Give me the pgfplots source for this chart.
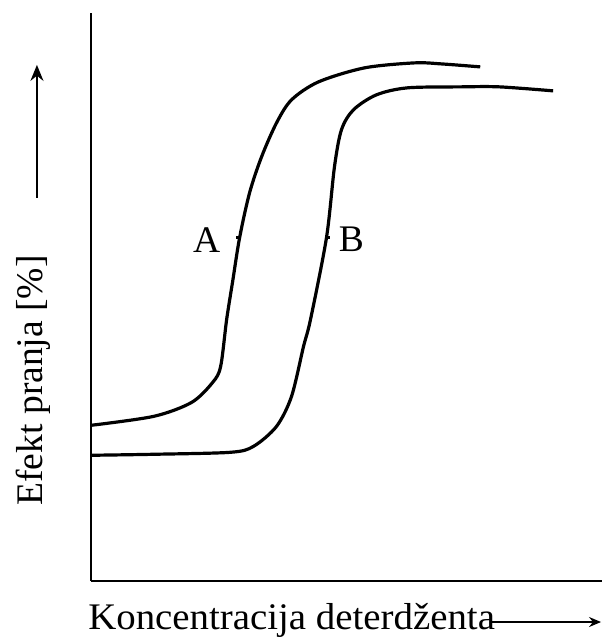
\documentclass[border=0pt]{standalone}
\usepackage{fontspec}
\setmainfont{Liberation Serif}
\usepackage{pgfplots}
\pgfplotsset{compat=1.18}
\usetikzlibrary{arrows.meta}
\begin{document}
\begin{tikzpicture}[font=\fontsize{18.8}{22}\selectfont]
\begin{axis}[
    scale only axis,
    width=256pt, height=284.5pt,
    xmin=0, xmax=512, ymin=0, ymax=569,
    axis lines*=left,
    axis line style={line width=1.3pt},
    xtick=\empty, ytick=\empty,
    clip=false,
]
% curve A
\addplot[smooth, tension=0.5, line width=1.6pt] coordinates {
    (0,156) (63,165) (101,179) (122,199) (130,215) (136,262) (142,300)
    (149,344) (159,389) (171,425) (186,459) (201,482) (228,500)
    (274,514) (324,519) (351,518) (390,515)
};
% curve B
\addplot[smooth, tension=0.5, line width=1.6pt] coordinates {
    (0,126) (63,127) (140,129) (163,135) (186,155) (201,185) (213,235)
    (220,262) (236,344) (244,415) (251,452) (263,472) (286,487)
    (317,494) (371,495) (409,495) (463,491)
};
% labels with little ticks
\draw[line width=1.3pt] (axis cs:149,344) -- (axis cs:145,344);
\draw[line width=1.3pt] (axis cs:236,344) -- (axis cs:240,344);
\node at (axis cs:116,342) {A};
\node at (axis cs:261,342) {B};
% axis titles with arrows
\node[rotate=90, inner sep=0pt] at (axis cs:-58,201) {Efekt pranja [\%]};
\draw[line width=1.1pt, -{Stealth[length=8pt,width=6.5pt]}] (axis cs:-54,384) -- (axis cs:-54,517);
\node[anchor=base west, inner sep=0pt, xscale=1.035] at (axis cs:-3,-48) {Koncentracija deterdženta};
\draw[line width=0.8pt, -{Stealth[length=6pt,width=5pt]}] (axis cs:401,-41) -- (axis cs:511,-41);
% picture frame
\path (axis cs:-91,582) rectangle (axis cs:512,-55);
\end{axis}
\end{tikzpicture}
\end{document}
